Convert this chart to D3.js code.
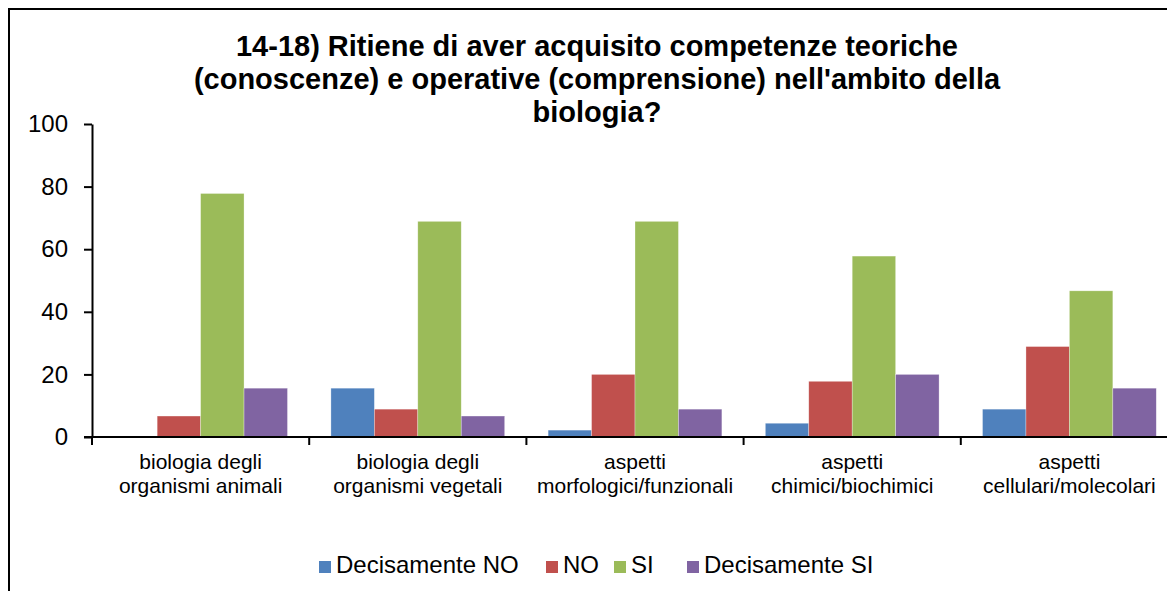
<!DOCTYPE html>
<meta charset="utf-8" />
<html>
<head>
<script src="https://d3js.org/d3.v7.min.js"></script>
<style>
  body { margin: 0; background: #fff; }
  text { font-family: Arial, "Liberation Sans", sans-serif; fill: #000; }
</style>
</head>
<body>
<script type="text/javascript">
// data (percent, n = 45)
var categories = [
  ['biologia degli', 'organismi animali'],
  ['biologia degli', 'organismi vegetali'],
  ['aspetti', 'morfologici/funzionali'],
  ['aspetti', 'chimici/biochimici'],
  ['aspetti', 'cellulari/molecolari']
];
var seriesNames = ['Decisamente NO', 'NO', 'SI', 'Decisamente SI'];
var decisamenteNo = [0, 15.6, 2.2, 4.4, 8.9];
var no = [6.7, 8.9, 20, 17.8, 28.9];
var si = [77.8, 68.9, 68.9, 57.8, 46.7];
var decisamenteSi = [15.6, 6.7, 8.9, 20, 15.6];
var yTicks = [0, 20, 40, 60, 80, 100];
var colors = ['#4F81BD', '#C0504D', '#9BBB59', '#8064A2'];
var titleLines = [
  '14-18) Ritiene di aver acquisito competenze teoriche',
  "(conoscenze) e operative (comprensione) nell'ambito della",
  'biologia?'
];

var W = 1167, H = 591;
var plot = {left: 92, right: 1178, top: 124, bottom: 437};

var svg = d3.select('body').append('svg')
    .attr('width', W)
    .attr('height', H);

// chart border (runs off the right and bottom edges)
svg.append('rect')
    .attr('x', 9).attr('y', 9)
    .attr('width', 1300).attr('height', 700)
    .attr('fill', 'none')
    .attr('stroke', '#000')
    .attr('stroke-width', 2);

// title
svg.append('g').selectAll('text')
    .data(titleLines)
    .enter()
    .append('text')
    .attr('x', 597)
    .attr('y', function(d, i) { return 56 + i * 33; })
    .attr('text-anchor', 'middle')
    .style('font-size', '29px')
    .style('font-weight', 'bold')
    .text(function(d) { return d; });

var catIdx = categories.map(function(d, i) { return i; });
var x = d3.scaleBand()
    .domain(catIdx)
    .range([plot.left, plot.right])
    .paddingInner(0).paddingOuter(0);
var bw = x.bandwidth();
var xs = d3.scaleBand()
    .domain(seriesNames)
    .range([bw * 0.1, bw * 0.9]);
var y = d3.scaleLinear()
    .domain([0, 100])
    .range([plot.bottom, plot.top]);

var allSeries = [decisamenteNo, no, si, decisamenteSi];

// bars
var groups = svg.append('g').selectAll('g')
    .data(catIdx)
    .enter()
    .append('g')
    .attr('transform', function(d) { return 'translate(' + x(d) + ',0)'; });
groups.selectAll('rect')
    .data(function(c) {
      return seriesNames.map(function(s, k) { return {s: s, k: k, v: allSeries[k][c]}; });
    })
    .enter()
    .append('rect')
    .attr('x', function(d) { return xs(d.s); })
    .attr('width', xs.bandwidth())
    .attr('y', function(d) { return y(d.v); })
    .attr('height', function(d) { return plot.bottom - y(d.v); })
    .attr('fill', function(d) { return colors[d.k]; })
    .attr('stroke', '#fff')
    .attr('stroke-opacity', 0.5)
    .attr('stroke-width', 0.6);

// y axis
var yAxis = svg.append('g')
    .attr('transform', 'translate(' + plot.left + ',0)')
    .call(d3.axisLeft(y).tickValues(yTicks).tickSize(8).tickSizeOuter(0).tickPadding(16));
yAxis.select('.domain').attr('stroke', '#000').attr('stroke-width', 2);
yAxis.selectAll('.tick line').attr('stroke', '#000').attr('stroke-width', 2);
yAxis.selectAll('.tick text')
    .style('font-size', '24px')
    .style('font-family', 'Arial, "Liberation Sans", sans-serif')
    .attr('fill', '#000');

// x axis line and category dividers
svg.append('line')
    .attr('x1', plot.left - 8).attr('x2', W + 20)
    .attr('y1', plot.bottom).attr('y2', plot.bottom)
    .attr('stroke', '#000').attr('stroke-width', 2);
var bounds = catIdx.map(function(d) { return x(d); }).concat([plot.right]);
svg.append('g').selectAll('line')
    .data(bounds)
    .enter()
    .append('line')
    .attr('x1', function(d) { return d; })
    .attr('x2', function(d) { return d; })
    .attr('y1', plot.bottom).attr('y2', plot.bottom + 8)
    .attr('stroke', '#000').attr('stroke-width', 2);

// category labels
var labels = svg.append('g').selectAll('text')
    .data(catIdx)
    .enter()
    .append('text')
    .attr('text-anchor', 'middle')
    .style('font-size', '21px')
    .attr('transform', function(d) { return 'translate(' + (x(d) + bw / 2) + ',469)'; });
labels.selectAll('tspan')
    .data(function(d) { return categories[d]; })
    .enter()
    .append('tspan')
    .attr('x', 0)
    .attr('y', function(d, i) { return i * 24; })
    .text(function(d) { return d; });

// legend
var legendX = [319, 546, 614, 687];
var legend = svg.append('g').selectAll('g')
    .data(seriesNames)
    .enter()
    .append('g')
    .attr('transform', function(d, i) { return 'translate(' + legendX[i] + ',0)'; });
legend.append('rect')
    .attr('x', 0).attr('y', 561)
    .attr('width', 12).attr('height', 12)
    .attr('fill', function(d, i) { return colors[i]; });
legend.append('text')
    .attr('x', 17).attr('y', 573)
    .style('font-size', '24px')
    .text(function(d) { return d; });
</script>
</body>
</html>
